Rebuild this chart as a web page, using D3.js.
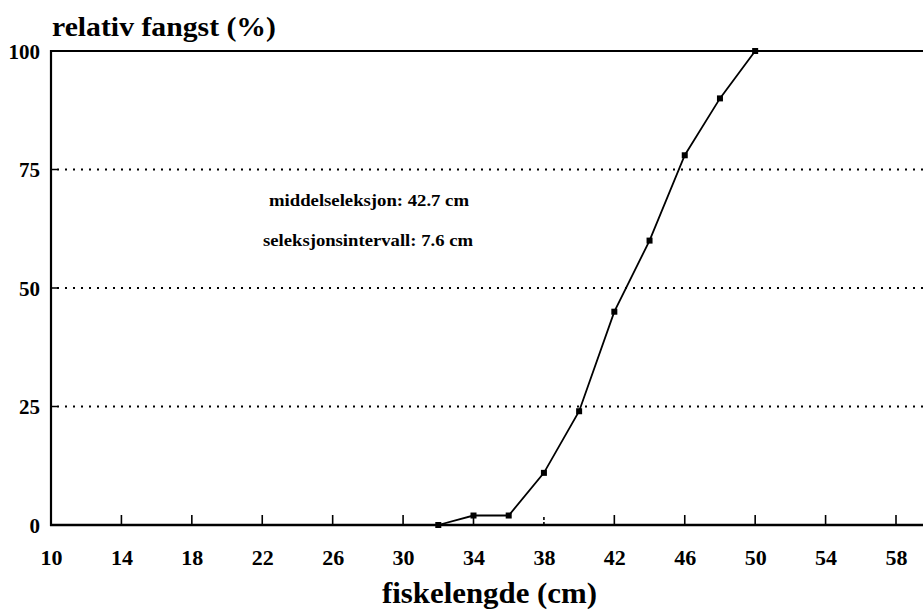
<!DOCTYPE html>
<html><head><meta charset="utf-8">
<script src="https://cdn.jsdelivr.net/npm/d3@7"></script>
<style>body{margin:0;background:#fff}svg{display:block}text{font-family:"Liberation Serif","Times New Roman",serif;fill:#000}</style>
</head><body>
<svg id="c" width="923" height="616"></svg>
<script>
const lengths = [32, 34, 36, 38, 40, 42, 44, 46, 48, 50];
const catchPct = [0, 2, 2, 11, 24, 45, 60, 78, 90, 100];
const xTicks = [10, 14, 18, 22, 26, 30, 34, 38, 42, 46, 50, 54, 58];
const yTicks = [0, 25, 50, 75, 100];
const gridTicks = [25, 50, 75];
const annotations = ["middelseleksjon: 42.7 cm", "seleksjonsintervall: 7.6 cm"];
const yTitle = "relativ fangst (%)";
const xTitle = "fiskelengde (cm)";

const svg = d3.select("#c");
const W = 923;
const x = d3.scaleLinear().domain([10, 58]).range([51, 896]);
const y = d3.scaleLinear().domain([0, 100]).range([525, 51]);

// gridlines (dotted)
svg.append("g").selectAll("line").data(gridTicks).join("line")
  .attr("x1", 57).attr("x2", W).attr("y1", d => y(d)).attr("y2", d => y(d))
  .attr("stroke", "#000").attr("stroke-width", 2)
  .attr("stroke-dasharray", "2,6").attr("stroke-linecap", "butt");
svg.append("g").selectAll("line").data(gridTicks).join("line")
  .attr("x1", x(10)).attr("x2", x(10) + 6).attr("y1", d => y(d)).attr("y2", d => y(d))
  .attr("stroke", "#000").attr("stroke-width", 1.5);

// frame: top line, left axis, bottom axis
svg.append("line").attr("x1", x(10)).attr("x2", W).attr("y1", y(100)).attr("y2", y(100))
  .attr("stroke", "#000").attr("stroke-width", 2.2);
svg.append("line").attr("x1", x(10)).attr("x2", x(10)).attr("y1", y(100) - 1).attr("y2", y(0) + 1)
  .attr("stroke", "#000").attr("stroke-width", 2.2);
svg.append("line").attr("x1", x(10) - 1).attr("x2", W).attr("y1", y(0)).attr("y2", y(0))
  .attr("stroke", "#000").attr("stroke-width", 2.4);

// x axis ticks (inward) + labels
const xAxis = d3.axisBottom(x).tickValues(xTicks).tickSize(0).tickPadding(24).tickFormat(d3.format("d"));
const gx = svg.append("g").attr("transform", `translate(0,${y(0)})`).call(xAxis);
gx.select(".domain").remove();
gx.selectAll("text").attr("font-size", 22).attr("font-weight", "bold").attr("dy", 0).attr("y", 40);
svg.append("g").selectAll("line").data(xTicks.filter(d => d !== 10)).join("line")
  .attr("x1", d => x(d)).attr("x2", d => x(d)).attr("y1", y(0)).attr("y2", y(0) - 10)
  .attr("stroke", "#000").attr("stroke-width", 1.6)
  .attr("stroke-dasharray", d => d === 38 ? "3,2" : null);

// y axis labels
const yAxis = d3.axisLeft(y).tickValues(yTicks).tickSize(0).tickPadding(11).tickFormat(d3.format("d"));
const gy = svg.append("g").attr("transform", `translate(${x(10)},0)`).call(yAxis);
gy.select(".domain").remove();
gy.selectAll("text").attr("font-size", 21).attr("font-weight", "bold").attr("dy", "0.34em");

// data line + markers
const line = d3.line().x((d, i) => x(lengths[i])).y(d => y(d));
svg.append("path").datum(catchPct).attr("d", line)
  .attr("fill", "none").attr("stroke", "#000").attr("stroke-width", 1.8);
svg.append("g").selectAll("rect").data(catchPct).join("rect")
  .attr("x", (d, i) => x(lengths[i]) - 3).attr("y", d => y(d) - 3)
  .attr("width", 6).attr("height", 6).attr("fill", "#000");

// titles
svg.append("text").attr("x", 52).attr("y", 36).attr("font-size", 28).attr("font-weight", "bold")
  .attr("textLength", 224).attr("lengthAdjust", "spacingAndGlyphs").text(yTitle);
svg.append("text").attr("x", 382).attr("y", 603).attr("font-size", 30).attr("font-weight", "bold")
  .attr("textLength", 215).attr("lengthAdjust", "spacingAndGlyphs").text(xTitle);

// annotations
const annX = [269, 263], annY = [206, 246], annW = [200, 210];
svg.append("g").selectAll("text").data(annotations).join("text")
  .attr("x", (d, i) => annX[i]).attr("y", (d, i) => annY[i])
  .attr("font-size", 17).attr("font-weight", "bold")
  .attr("textLength", (d, i) => annW[i]).attr("lengthAdjust", "spacingAndGlyphs")
  .text(d => d);
</script>
</body></html>
